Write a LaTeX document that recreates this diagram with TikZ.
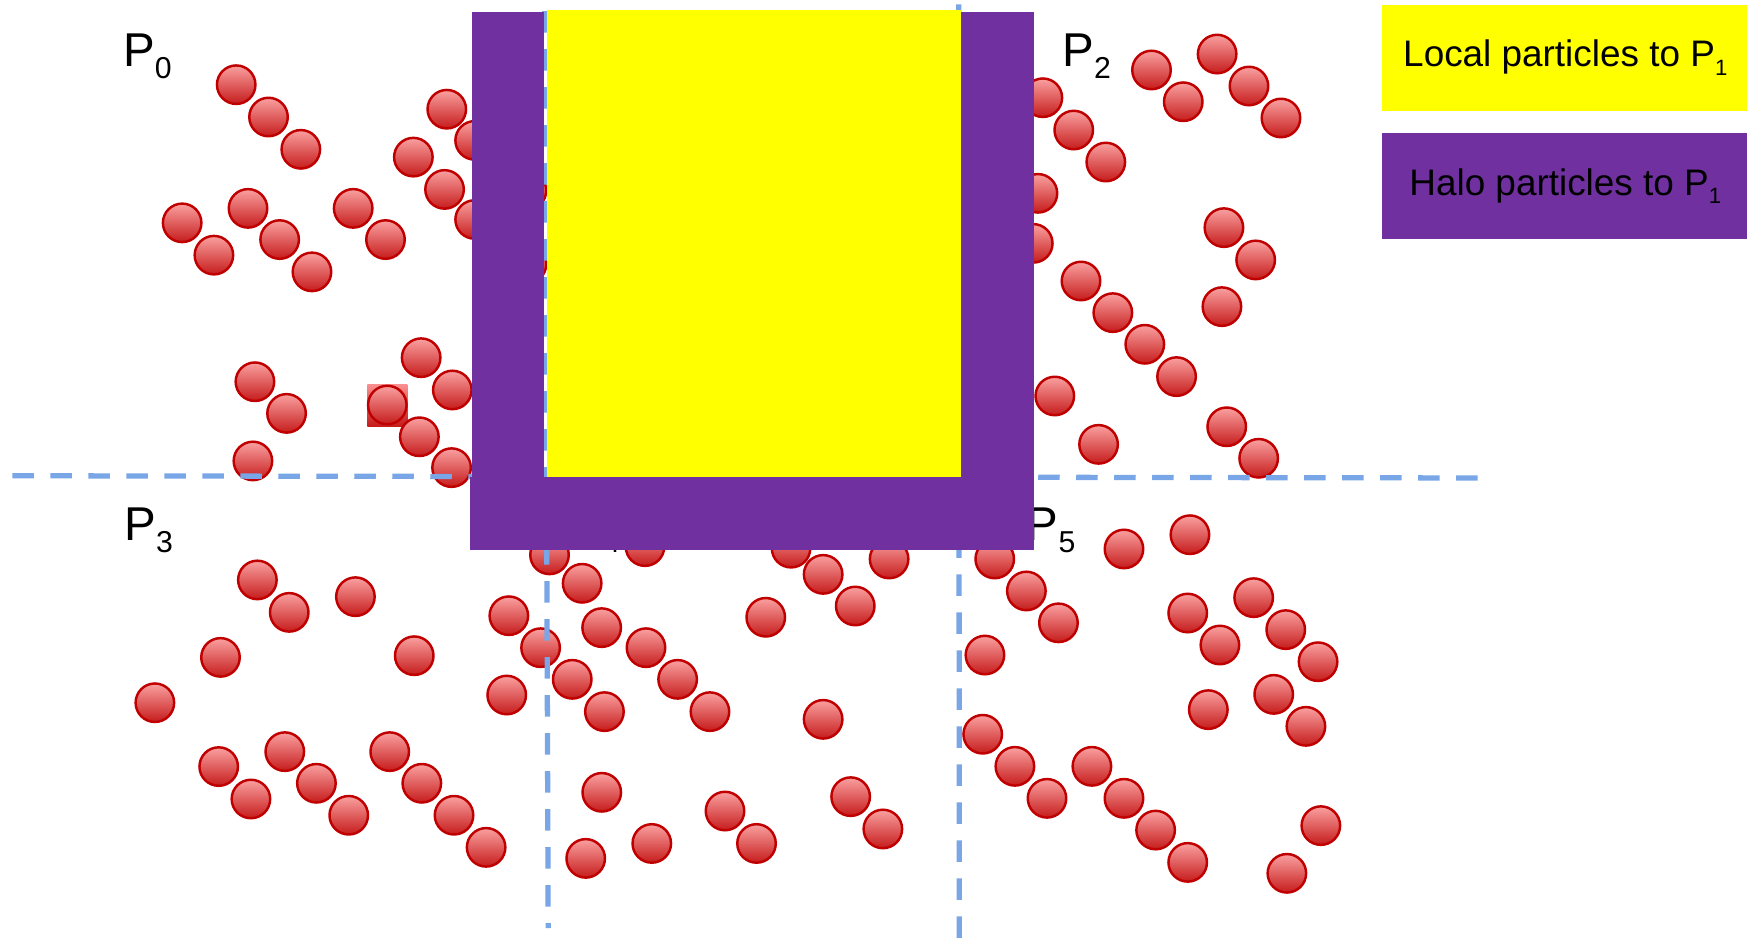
\documentclass[tikz,border=0pt]{standalone}
\usepackage{fontspec}
\setmainfont{Liberation Sans}
\usetikzlibrary{positioning}

\definecolor{halopurple}{RGB}{112,48,160}
\definecolor{localyellow}{RGB}{255,255,0}
\definecolor{splitblue}{RGB}{120,166,230}
\definecolor{particlerim}{RGB}{192,0,0}
\definecolor{particletop}{RGB}{250,160,160}
\definecolor{particlebottom}{RGB}{198,28,28}

\newcommand{\procsub}[1]{\raisebox{-3.3pt}{\fontsize{8.6}{9}\selectfont #1}}
\newcommand{\legsub}[1]{\raisebox{-2.4pt}{\fontsize{6.3}{7}\selectfont #1}}

\begin{document}
\begin{tikzpicture}[x=0.11142mm,y=-0.11142mm]
      \useasboundingbox (0,0) rectangle (1568,845);
      \coordinate (origo) at (0,0);

      \tikzstyle{particle} = [
        circle,
        draw=particlerim,
        line width=0.7pt,
        top color=particletop,
        bottom color=particlebottom,
        minimum size=3.85mm,
        inner sep=0pt
      ]
      \tikzstyle{marker} = [
        rectangle,
        top color=particletop!90!red,
        bottom color=particlebottom,
        minimum width=4.0mm,
        minimum height=4.2mm,
        inner sep=0pt
      ]
      \tikzstyle{splitline} = [draw=splitblue, line width=1.5pt, dash pattern=on 2.15mm off 1.65mm]
      \tikzstyle{proclabel} = [
        anchor=base west,
        inner sep=0pt,
        font=\fontsize{13.5}{16}\selectfont
      ]
      \tikzstyle{legendbox} = [
        rectangle,
        anchor=north west,
        minimum width=36.6mm,
        minimum height=10.6mm,
        inner sep=0pt,
        font=\fontsize{10.5}{12.6}\selectfont
      ]

      % marked particle
      \node[marker] (markBox) at (347.7,363.5) {};

      % particles of P0
      \foreach \px/\py [count=\i] in {212/76, 241/105, 270/134, 401/98, 426/126, 371/141,
          399/170, 426/197, 163.5/200, 192/229, 222.6/187, 251/215, 280/244, 317/187,
          346/215, 378/321, 406/350, 347.6/363.5, 376.4/392, 405.3/419.7, 228.8/342.6,
          257.2/371, 227/413.7, 473/171, 473/237}
        \node[particle] (pzero\i) at (\px,\py) {};

      % particles of P2
      \foreach \px/\py [count=\i] in {936/87.7, 963.7/116.7, 992.5/145.4, 931.6/173.5,
          927.4/218.4, 970.2/252.2, 998.8/280.6, 1027.5/309, 1056/338, 946.7/355.4,
          986/398.8, 1033.5/62.8, 1062/91.3, 1092.4/48.5, 1121/77.2, 1149.7/105.9,
          1098.5/204.3, 1127/233.3, 1096.7/275.2, 1101/383, 1129.7/411.3}
        \node[particle] (ptwo\i) at (\px,\py) {};

      % particles of P3
      \foreach \px/\py [count=\i] in {231/520.5, 259.6/549.6, 319/535.5, 197.9/590,
          371.8/588.5, 139/630.7, 196.3/688, 225.2/717.1, 255.6/674.6, 284/703,
          313/731.7, 349.8/674.6, 378.6/703, 407.5/731.7, 436.3/760.5, 456.7/552.6,
          485.2/581.3, 454.8/623.8}
        \node[particle] (pthree\i) at (\px,\py) {};

      % particles of P4
      \foreach \px/\py [count=\i] in {493.2/498, 522.5/523.5, 540/563.3, 579.8/581.3,
          608.2/609.7, 513.6/609.7, 542.5/638.7, 637.2/638.7, 540.1/711.1, 525.7/770.4,
          585/757, 578.9/490.6, 687.3/554, 710/492, 738.8/515.5, 767.6/543.9,
          798/501.7, 738.8/645.6, 650.7/727.9, 679/757, 763.5/715, 792.4/744}
        \node[particle] (pfour\i) at (\px,\py) {};

      % particles of P5
      \foreach \px/\py [count=\i] in {892.8/501.7, 921.2/530.4, 950/559, 884/587.9,
          1008.8/492.7, 1068/479.9, 1066/550.2, 1094.9/578.9, 1125.2/536.4, 1154/565.1,
          1183/593.9, 1084.5/636.9, 1143.2/623.2, 1172.1/651.9, 882/659, 910.9/687.8,
          939.7/716.5, 980/687.8, 1008.8/716.5, 1037.2/745, 1066/774, 1185.5/741,
          1155/783.8}
        \node[particle] (pfive\i) at (\px,\py) {};

      % domain split
      \coordinate (splitW) at (11,427);
      \coordinate (splitE) at (1340,429);
      \coordinate (splitAN) at (489,10);
      \coordinate (splitAS) at (492,833);
      \coordinate (splitBN) at (860.5,4);
      \coordinate (splitBS) at (861,843);
      \draw[splitline] (splitW) -- (splitE);
      \draw[splitline] (splitAN) -- (splitAS);
      \draw[splitline] (splitBN) -- (splitBS);

      % process labels
      \node[proclabel] (labelP0) at (110,59.8) {P\procsub{0}};
      \node[proclabel] (labelP2) at (953,59.8) {P\procsub{2}};
      \node[proclabel] (labelP3) at (111,485.5) {P\procsub{3}};
      \node[proclabel] (labelP4) at (512.6,485.5) {P\procsub{4}};
      \node[proclabel] (labelP5) at (921,485.5) {P\procsub{5}};

      % halo of P1
      \fill[halopurple] (423.4,11) rectangle (488.5,428);
      \fill[halopurple] (862,11) rectangle (928.3,428);
      \fill[halopurple] (421.6,428) rectangle (928.3,493.6);

      % local of P1
      \fill[localyellow] (490.5,9) rectangle (862.3,427.9);

      % legend
      \node[legendbox,fill=localyellow] (legendLocal) at (1240,3.6) {Local particles to P\legsub{1}};
      \node[legendbox,fill=halopurple] (legendHalo) at (1240,118.8) {Halo particles to P\legsub{1}};
    \end{tikzpicture}
\end{document}
